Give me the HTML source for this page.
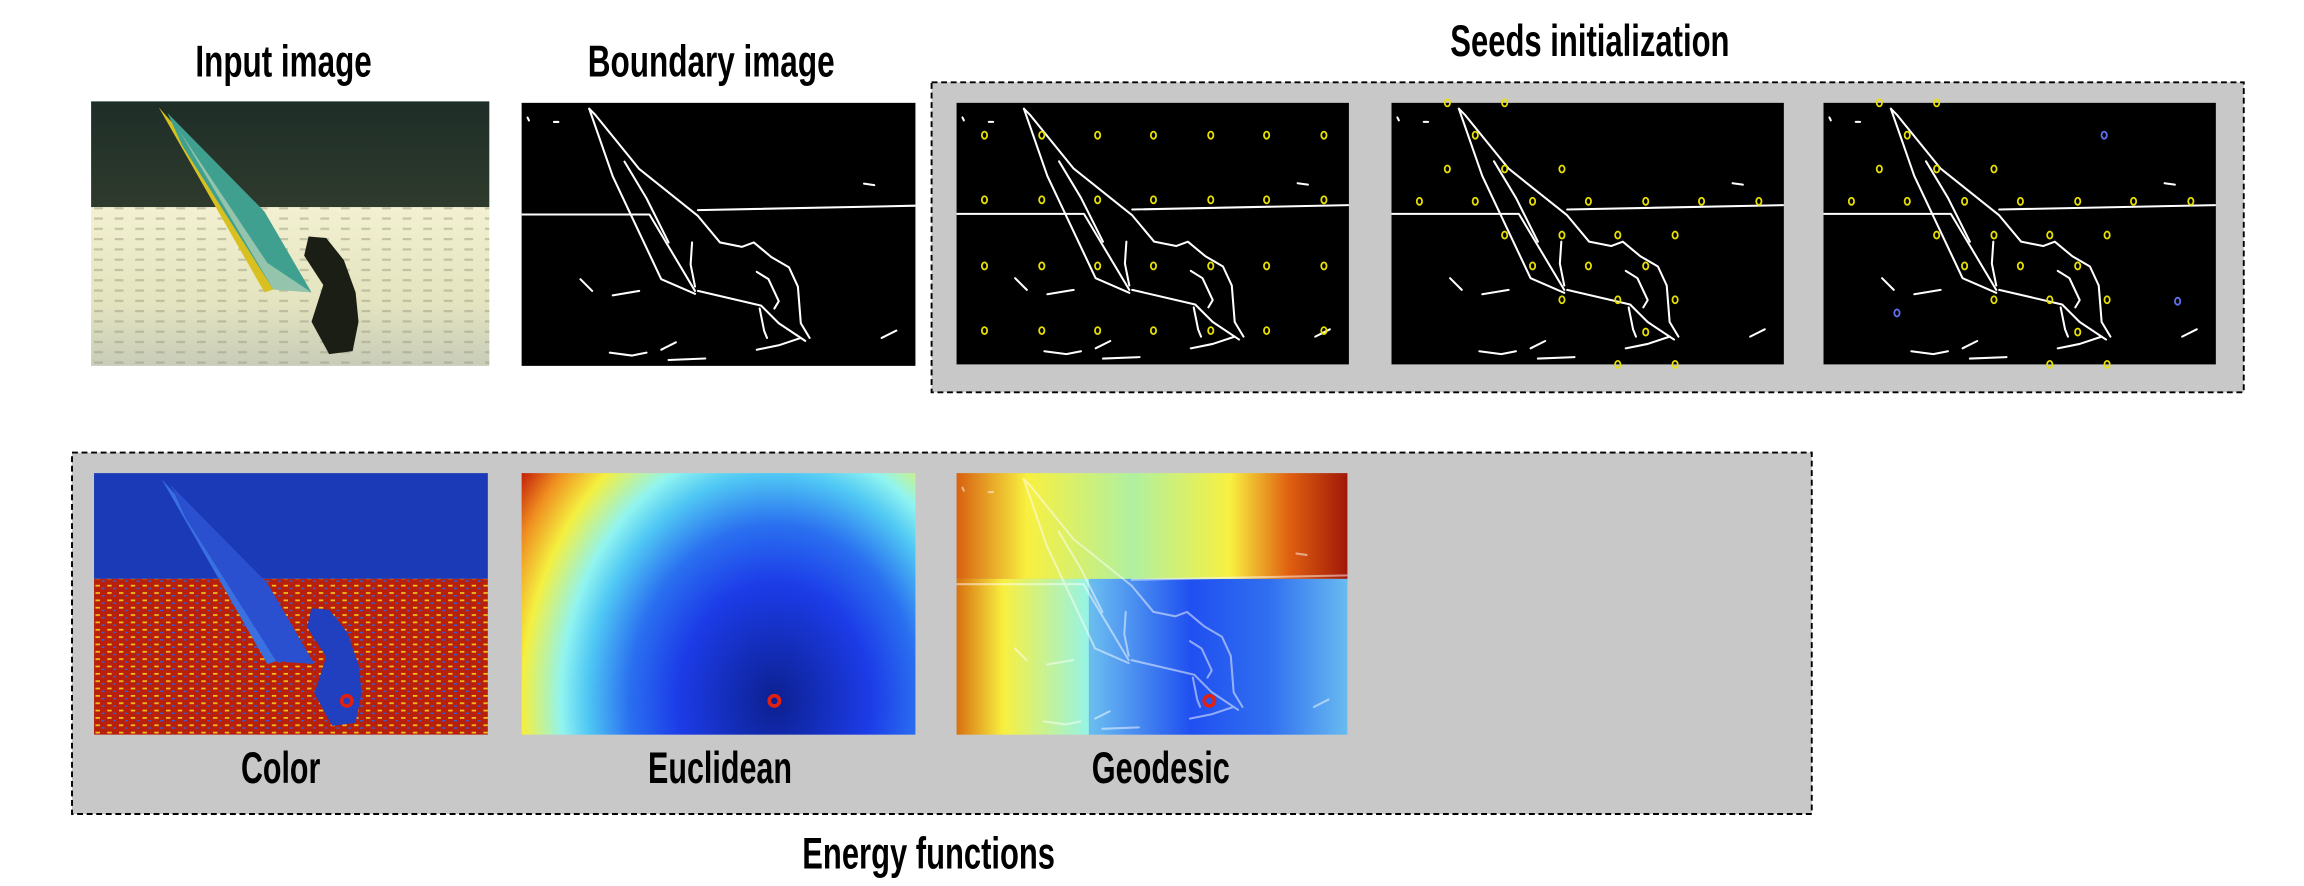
<!DOCTYPE html>
<html><head><meta charset="utf-8"><style>
html,body{margin:0;padding:0;background:#fff;width:2304px;height:886px;overflow:hidden}
svg{display:block}
text{font-family:"Liberation Sans Narrow","Liberation Sans",sans-serif;font-weight:bold;fill:#000}
</style></head><body>
<svg width="2304" height="886" viewBox="0 0 1568 603" preserveAspectRatio="none" xmlns="http://www.w3.org/2000/svg">
<defs>
<symbol id="edges" viewBox="0 0 268 179" preserveAspectRatio="none">
 <g fill="none" stroke="#fff" stroke-width="1.4" stroke-linecap="round" stroke-linejoin="round">
  <path d="M0,76 L87,76 L118,128"/>
  <path d="M120,73 L268,70"/>
  <path d="M46,4 L50,8 L80,45 L120,77 L135,95 L150,98 L158,95 L170,105 L182,112 L188,125 L190,150 L196,160"/>
  <path d="M46,4 L62,50 L95,120 L118,130"/>
  <path d="M70,40 L85,65 L100,95"/>
  <path d="M120,128 L163,138 L175,150 L193,162"/>
  <path d="M116,95 L115,110 L118,125"/>
  <path d="M160,115 L168,120 L175,135 L172,140"/>
  <path d="M162,140 L165,155 L167,160"/>
  <path d="M160,168 L175,165 L190,160"/>
  <path d="M40,120 L48,128"/>
  <path d="M62,131 L80,128"/>
  <path d="M60,170 L75,172 L85,170"/>
  <path d="M95,168 L105,163"/>
  <path d="M100,175 L125,174"/>
  <path d="M233,55 L240,56"/>
  <path d="M245,160 L255,155"/>
  <path d="M4,10 L5,12"/><path d="M22,13 L25,13"/>
 </g>
</symbol>
<linearGradient id="inTop" x1="0" y1="0" x2="0" y2="1"><stop offset="0" stop-color="#1e2e28"/><stop offset="1" stop-color="#2e3a2c"/></linearGradient>
<linearGradient id="inBot" x1="0" y1="0" x2="0" y2="1"><stop offset="0" stop-color="#f2f0d0"/><stop offset="0.6" stop-color="#e4e4c0"/><stop offset="1" stop-color="#c8ccb8"/></linearGradient>
<radialGradient id="euc" gradientUnits="userSpaceOnUse" cx="172" cy="155" r="220" gradientTransform="translate(172 155) scale(1 1.21) translate(-172 -155)">
 <stop offset="0" stop-color="#0c2090"/><stop offset="0.3" stop-color="#1c3ce8"/><stop offset="0.45" stop-color="#2a70f0"/><stop offset="0.58" stop-color="#50c8f4"/><stop offset="0.66" stop-color="#90f4f0"/><stop offset="0.78" stop-color="#f4f040"/><stop offset="0.88" stop-color="#f09020"/><stop offset="0.98" stop-color="#c01808"/>
</radialGradient>
<linearGradient id="geoTop" x1="0" y1="0" x2="1" y2="0"><stop offset="0" stop-color="#d86010"/><stop offset="0.18" stop-color="#f8f040"/><stop offset="0.45" stop-color="#b0f0a0"/><stop offset="0.7" stop-color="#f8f040"/><stop offset="0.85" stop-color="#e06010"/><stop offset="1" stop-color="#a01808"/></linearGradient>
<linearGradient id="geoBot" x1="0" y1="0" x2="1" y2="0"><stop offset="0" stop-color="#d87010"/><stop offset="0.12" stop-color="#f8f040"/><stop offset="0.35" stop-color="#90f4f0"/><stop offset="0.6" stop-color="#2050f0"/><stop offset="0.8" stop-color="#3a80f0"/><stop offset="1" stop-color="#90f4f0"/></linearGradient>
<pattern id="speck" width="8" height="5" patternUnits="userSpaceOnUse"><rect width="8" height="5" fill="#b8200c"/><rect x="1" y="1" width="3" height="1.2" fill="#f0c020"/><rect x="5" y="3" width="2" height="1" fill="#3060e0"/></pattern>
<pattern id="water" width="14" height="7" patternUnits="userSpaceOnUse"><rect width="14" height="7" fill="none"/><rect x="2" y="2" width="6" height="1.5" fill="#9a9a80" opacity="0.5"/></pattern>
</defs>

<text x="193" y="52" font-size="30" text-anchor="middle" textLength="120" lengthAdjust="spacingAndGlyphs">Input image</text>
<text x="484" y="52" font-size="30" text-anchor="middle" textLength="168" lengthAdjust="spacingAndGlyphs">Boundary image</text>
<text x="1082" y="38" font-size="30" text-anchor="middle" textLength="190" lengthAdjust="spacingAndGlyphs">Seeds initialization</text>

<g transform="translate(62,69)">
 <rect width="271" height="72" fill="url(#inTop)"/>
 <rect y="72" width="271" height="108" fill="url(#inBot)"/>
 <rect y="72" width="271" height="108" fill="url(#water)"/>
 <polygon points="46,4 118,130 124,128 60,20" fill="#d8c020"/>
 <polygon points="52,8 118,75 150,130 124,128 62,30" fill="#40a090"/>
 <polygon points="60,20 120,110 150,130 124,128" fill="#e8e8c8" opacity="0.5"/>
 <path d="M148,92 L160,93 L172,108 L180,130 L182,150 L178,170 L162,172 L150,150 L158,125 L145,105 Z" fill="#1a1e14"/>
</g>

<g>
 <rect x="355" y="70" width="268" height="179" fill="#000"/>
 <use href="#edges" x="355" y="70" width="268" height="179"/>
</g>

<rect x="634" y="56" width="893" height="211" fill="#c8c8c8" stroke="#000" stroke-width="1.3" stroke-dasharray="4,2.5"/>
<g>
 <rect x="651" y="70" width="267" height="178" fill="#000"/>
 <use href="#edges" x="651" y="70" width="267" height="178"/>
 <g id="dots1" fill="none" stroke="#e8e000" stroke-width="1.2"></g>
</g>
<g>
 <rect x="947" y="70" width="267" height="178" fill="#000"/>
 <use href="#edges" x="947" y="70" width="267" height="178"/>
 <g id="dots2" fill="none" stroke="#e8e000" stroke-width="1.2"></g>
</g>
<g>
 <rect x="1241" y="70" width="267" height="178" fill="#000"/>
 <use href="#edges" x="1241" y="70" width="267" height="178"/>
 <g id="dots3" fill="none" stroke="#e8e000" stroke-width="1.2"></g>
</g>

<rect x="49" y="308" width="1184" height="246" fill="#c8c8c8" stroke="#000" stroke-width="1.3" stroke-dasharray="4,2.5"/>
<g transform="translate(64,322)">
 <rect width="268" height="72" fill="#1a3ab8"/>
 <rect y="72" width="268" height="106" fill="url(#speck)"/>
 <polygon points="46,4 118,130 124,128 60,20" fill="#3a70e0"/>
 <polygon points="52,8 118,75 150,130 124,128 62,30" fill="#2a50d0"/>
 <path d="M148,92 L160,93 L172,108 L180,130 L182,150 L178,170 L162,172 L150,150 L158,125 L145,105 Z" fill="#2040c0"/>
 <circle cx="172" cy="155" r="3.5" fill="none" stroke="#e02010" stroke-width="2.5"/>
</g>
<g transform="translate(355,322)">
 <rect width="268" height="178" fill="url(#euc)"/>
 <circle cx="172" cy="155" r="3.5" fill="none" stroke="#e02010" stroke-width="2.5"/>
</g>
<g transform="translate(651,322)">
 <rect width="266" height="72" fill="url(#geoTop)"/>
 <rect y="72" width="266" height="106" fill="url(#geoBot)"/>
 <rect x="90" y="72" width="176" height="106" fill="#2050f0" opacity="0.35"/>
 <use href="#edges" width="266" height="178" opacity="0.5"/>
 <circle cx="172" cy="155" r="3.5" fill="none" stroke="#e02010" stroke-width="2.5"/>
</g>
<text x="191" y="533" font-size="30" text-anchor="middle" textLength="54" lengthAdjust="spacingAndGlyphs">Color</text>
<text x="490" y="533" font-size="30" text-anchor="middle" textLength="98" lengthAdjust="spacingAndGlyphs">Euclidean</text>
<text x="790" y="533" font-size="30" text-anchor="middle" textLength="94" lengthAdjust="spacingAndGlyphs">Geodesic</text>
<text x="632" y="591" font-size="30" text-anchor="middle" textLength="172" lengthAdjust="spacingAndGlyphs">Energy functions</text>
</svg>
<script>
const gridX=[19,58,96,134,173,211,250];
const gridY=[22,66,111,155];
const hexSeeds=[[38,0],[77,0],[57,22],[38,45],[77,45],[116,45],[19,67],[57,67],[96,67],[134,67],[173,67],[211,67],[250,67],[77,90],[116,90],[154,90],[193,90],[96,111],[134,111],[173,111],[116,134],[154,134],[193,134],[173,156],[154,178],[193,178]];
const blueSeeds=[[191,22],[50,143],[241,135]];
const NS='http://www.w3.org/2000/svg';
function dot(g,x,y,col){const c=document.createElementNS(NS,'ellipse');c.setAttribute('cx',x);c.setAttribute('cy',y);c.setAttribute('rx',1.8);c.setAttribute('ry',2.4);if(col)c.setAttribute('stroke',col);


g.appendChild(c);}
const d1=document.getElementById('dots1');
gridY.forEach(y=>gridX.forEach(x=>dot(d1,651+x,70+y)));
const d2=document.getElementById('dots2');
hexSeeds.forEach(p=>dot(d2,947+p[0],70+p[1]));
const d3=document.getElementById('dots3');
hexSeeds.forEach(p=>dot(d3,1241+p[0],70+p[1]));
blueSeeds.forEach(p=>dot(d3,1241+p[0],70+p[1],'#6070f0'));
</script>
</body></html>
